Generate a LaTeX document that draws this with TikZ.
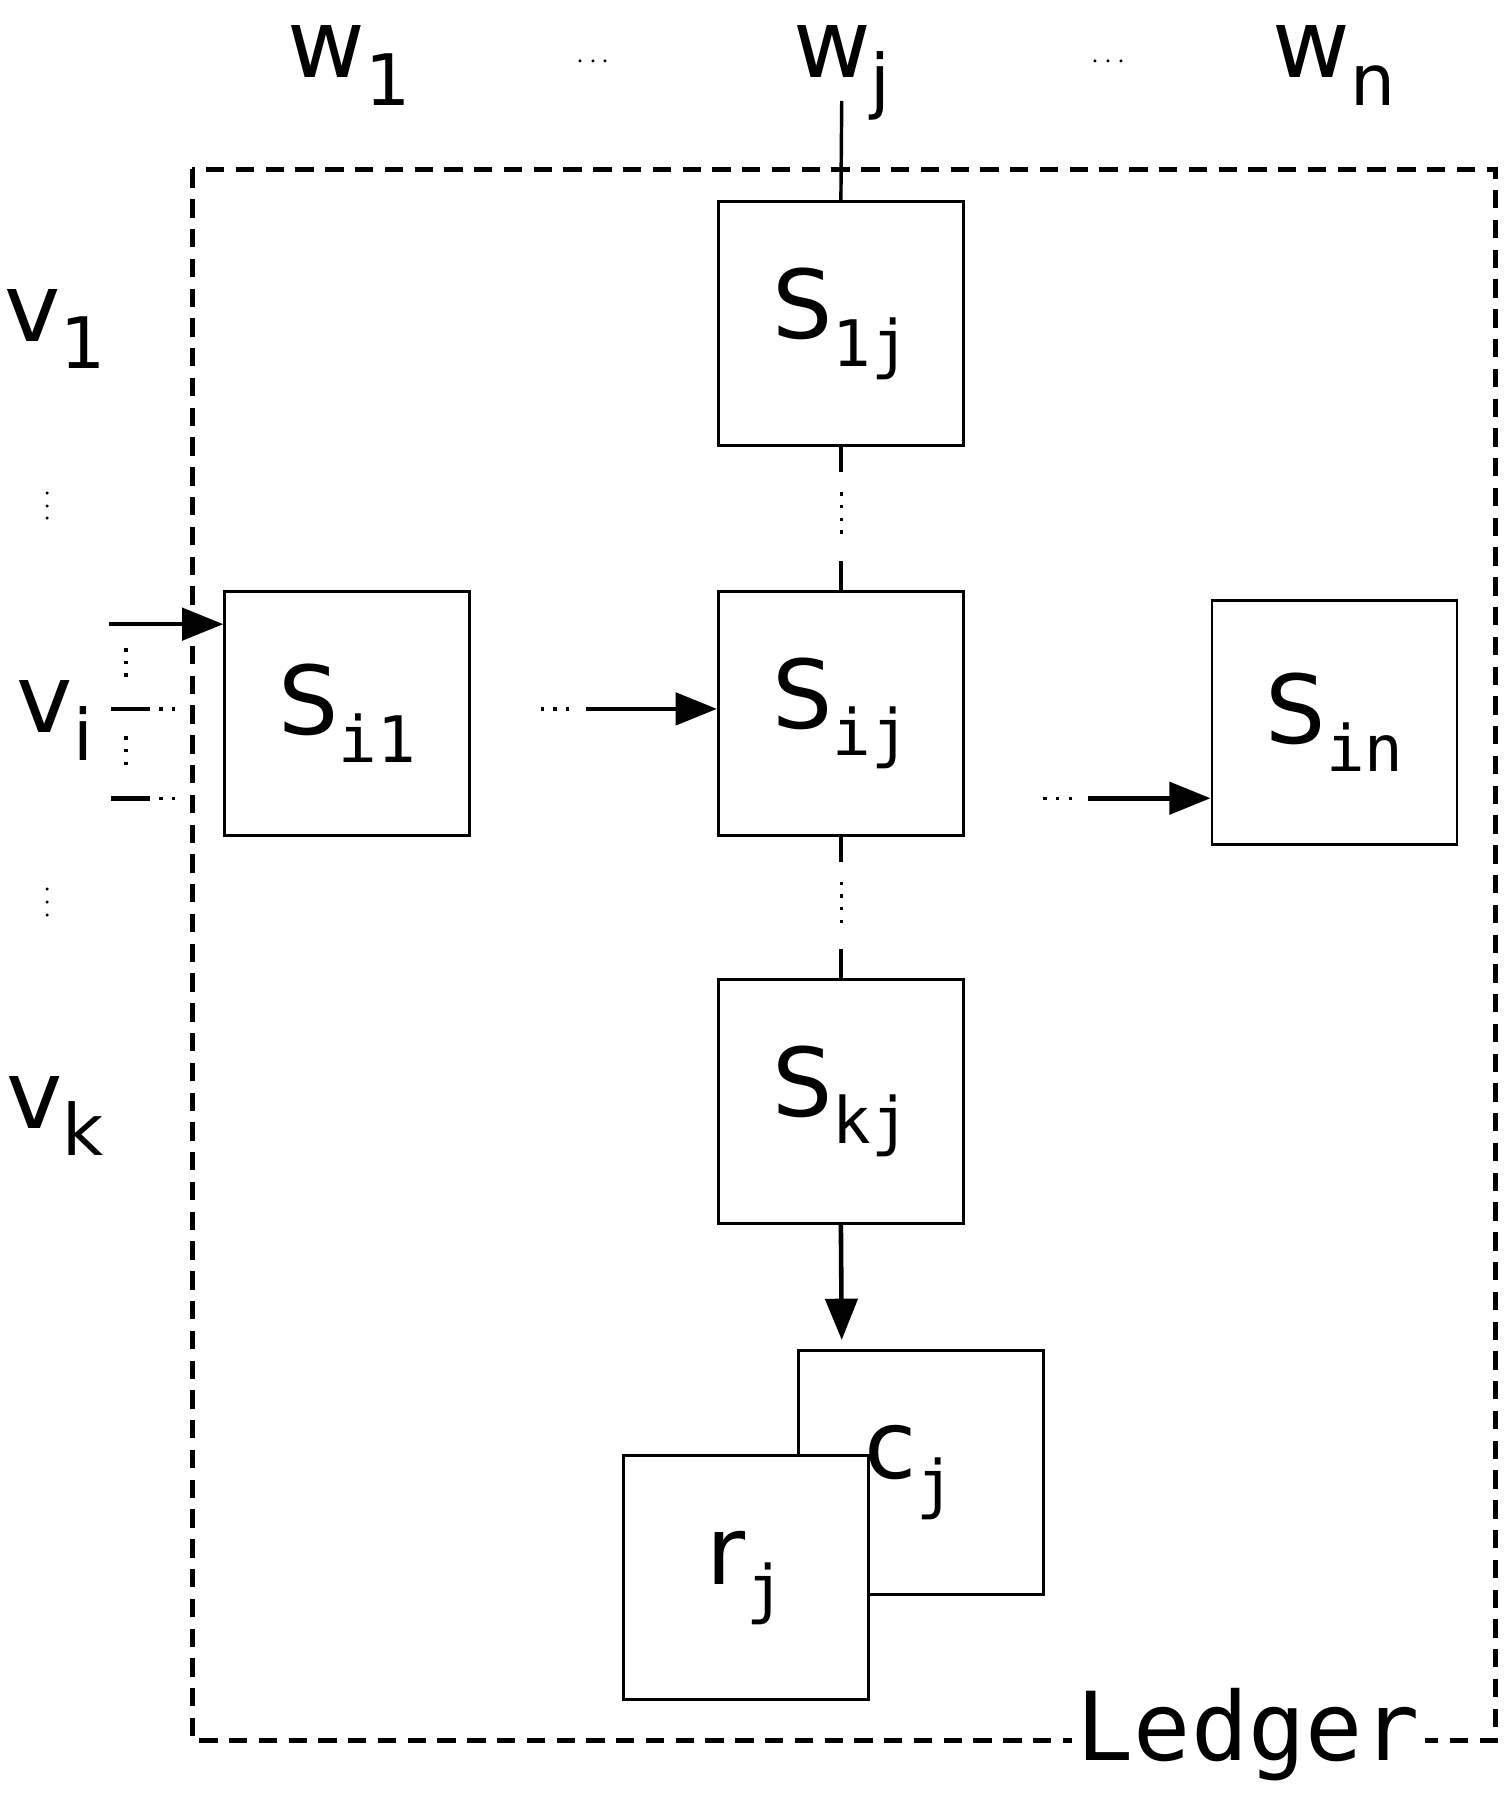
\documentclass[tikz,border=0pt]{standalone}
\usepackage{fontspec}
\setmainfont{DejaVu Sans}
\newfontfamily\monof{DejaVu Sans Mono}
\usetikzlibrary{arrows.meta}
\newcommand{\lab}[2]{{\fontsize{83}{83}\selectfont #1\raisebox{-24pt}{\monof\fontsize{56}{56}\selectfont #2}}}
\newcommand{\slab}[2]{{\fontsize{83}{83}\selectfont #1\raisebox{-24pt}{\fontsize{62}{62}\selectfont #2}}}
\begin{document}
\begin{tikzpicture}[x=1pt,y=-1pt,
  box/.style={draw,line width=2.5pt,fill=white,minimum width=214pt,minimum height=213pt,inner sep=0pt,anchor=north west},
  arr/.style={line width=4pt,-{Triangle[length=36pt,width=28pt]}},
  ln/.style={line width=4pt},
  dt/.style={line width=3pt,dash pattern=on 3pt off 8pt},
  bigdots/.style={font=\fontsize{83}{83}\selectfont\bfseries}]
\useasboundingbox (0,0) rectangle (1320,1570);
\draw[line width=4pt,dash pattern=on 16pt off 10pt] (168,148) rectangle (1306,1520);
\node[fill=white,inner sep=4pt,anchor=center] (ledger) at (1090,1515) {\monof\fontsize{83}{83}\selectfont Ledger};
% boxes
\node[box] (s1j) at (626,175) {\lab{S}{1j}};
\node[box] (si1) at (195,515) {\lab{S}{i1}};
\node[box] (sij) at (626,515) {\lab{S}{ij}};
\node[box] (sin) at (1057,523) {\lab{S}{in}};
\node[box] (skj) at (626,854) {\lab{S}{kj}};
\node[box] (cj) at (696,1178) {\hspace*{-20pt}\raisebox{0pt}{\lab{c}{j}}};
\node[box] (rj) at (543,1270) {\lab{r}{j}};
% top labels
\node[anchor=base] (w1) at (305,68) {\slab{w}{1}};
\node[anchor=base] (wj) at (735,68) {\slab{w}{j}};
\node[anchor=base] (wn) at (1165,68) {\slab{w}{n}};
\node[bigdots,anchor=base] (d1) at (518,60) {$\cdots$};
\node[bigdots,anchor=base] (d2) at (968,60) {$\cdots$};
% left labels
\node[anchor=base] (v1) at (48,298) {\slab{v}{1}};
\node[anchor=base] (vi) at (48,640) {\slab{v}{i}};
\node[anchor=base] (vk) at (48,985) {\slab{v}{k}};
\node[bigdots,rotate=90] (d3) at (42,442) {$\cdots$};
\node[bigdots,rotate=90] (d4) at (42,788) {$\cdots$};
% vertical connection w_j - S1j
\coordinate (wjb) at (735,88);
\draw[line width=3pt] (wjb) -- (s1j.north);
% S1j to Sij
\draw[line width=3pt] (s1j.south) -- ++(0,22);
\draw[dt] (735,430) -- (735,468);
\draw[line width=3pt] (sij.north) -- ++(0,-25);
% Sij to Skj
\draw[line width=3pt] (sij.south) -- ++(0,22);
\draw[dt] (735,770) -- (735,808);
\draw[line width=3pt] (skj.north) -- ++(0,-25);
% Skj to cj
\coordinate (cjt) at (735,1170);
\draw[arr] (skj.south) -- (cjt);
% arrow into Si1
\coordinate (a0) at (95,545);
\draw[arr] (a0) -- (si1.north west |- a0);
\coordinate (h1) at (97,619);
\coordinate (h2) at (97,697);
\draw[ln] (h1) -- ++(34,0);
\draw[dt] (139,619) -- ++(16,0);
\draw[ln] (h2) -- ++(34,0);
\draw[dt] (139,697) -- ++(16,0);
\draw[dt] (110,566) -- (110,592);
\draw[dt] (110,643) -- (110,670);
% Si1 -> Sij
\draw[dt] (472,619) -- (502,619);
\coordinate (b0) at (512,619);
\draw[arr] (b0) -- (sij.west |- b0);
% Sij -> Sin
\draw[dt] (911,697) -- (941,697);
\coordinate (c0) at (950,697);
\draw[arr] (c0) -- (sin.west |- c0);
\end{tikzpicture}
\end{document}
